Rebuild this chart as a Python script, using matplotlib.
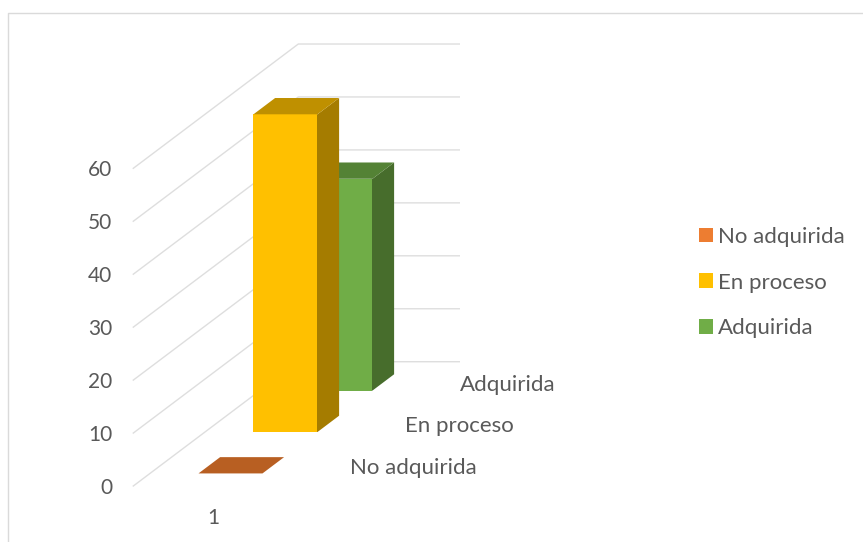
import matplotlib
matplotlib.use("Agg")
import matplotlib.pyplot as plt
from matplotlib.patches import Polygon, Patch

plt.rcParams['font.family'] = ['Lato', 'DejaVu Sans']

categories = ["1"]
series = ["No adquirida", "En proceso", "Adquirida"]
values = [0, 60, 40]
ticks = [0, 10, 20, 30, 40, 50, 60]

front = ["#ED7D31", "#FFC000", "#70AD47"]
top = ["#B85F22", "#BF9000", "#548235"]
side = ["#9E5020", "#A57C00", "#476D2C"]
grid = "#DEDEDE"
text = "#595959"

# oblique projection of the excel 3d chart, in pixels
ox, oy = 133.3, 486.0
cat_w = 161.0
ser_dx, ser_dy = 55.0, -41.43
unit = 5.295
bar_w = 0.3975
bar_d = 0.393


def proj(c, s, v):
    return (ox + c * cat_w + s * ser_dx, oy + s * ser_dy - v * unit)


fig = plt.figure(figsize=(8.63, 5.42), dpi=100)
ax = fig.add_axes([0, 0, 1, 1])
ax.set_xlim(0, 863)
ax.set_ylim(542, 0)
ax.axis('off')

# chart border, only top and left are in the crop
ax.plot([8, 8, 863], [542, 12.5, 12.5], color="#DADADA", lw=1.0, zorder=1)

n = len(series)
for t in ticks:
    p0 = proj(0, 0, t)
    p1 = proj(0, n, t)
    p2 = proj(1, n, t)
    ax.plot([p0[0], p1[0], p2[0]], [p0[1], p1[1], p2[1]], color=grid, lw=1.0, zorder=2)
    ax.text(p0[0] - 21, p0[1] + 2, str(t), ha='right', va='center', fontsize=15, color=text)

# back to front so nearer bars cover the others
for i in reversed(range(n)):
    s0 = i + 0.5 - bar_d / 2
    s1 = i + 0.5 + bar_d / 2
    c0 = 0.5 - bar_w / 2
    c1 = 0.5 + bar_w / 2
    v = values[i]
    # thin edge on the side face, else the bar behind shows through the seam
    ax.add_patch(Polygon([proj(c1 - 0.01, s0, 0), proj(c1, s0, 0), proj(c1, s1, 0), proj(c1, s1, v), proj(c1, s0, v), proj(c1 - 0.01, s0, v)],
                         fc=side[i], ec='none', zorder=3 + (n - i)))
    ax.add_patch(Polygon([proj(c0, s0, 0), proj(c1, s0, 0), proj(c1, s0, v), proj(c0, s0, v)],
                         fc=front[i], ec='none', zorder=3 + (n - i)))
    ax.add_patch(Polygon([proj(c0, s0, v), proj(c1, s0, v), proj(c1, s1, v), proj(c0, s1, v)],
                         fc=top[i], ec='none', zorder=3 + (n - i)))

    # series axis label
    lx, ly = proj(1, i + 0.5, 0)
    ax.text(lx + 28, ly + 2.5, series[i], ha='left', va='center', fontsize=16, color=text)

# category label
cx, cy = proj(0.5, 0, 0)
ax.text(cx, cy + 32, categories[0], ha='center', va='center', fontsize=15, color=text)

handles = [Patch(fc=front[i], ec='none', label=series[i]) for i in range(n)]
ax.legend(handles=handles, loc='center left', bbox_to_anchor=(0.81, 0.4787), frameon=False,
          fontsize=16, labelcolor=text, handlelength=0.63, handleheight=0.63,
          handletextpad=0.22, labelspacing=1.15, borderpad=0, borderaxespad=0)

plt.savefig('out.png', dpi=100)
